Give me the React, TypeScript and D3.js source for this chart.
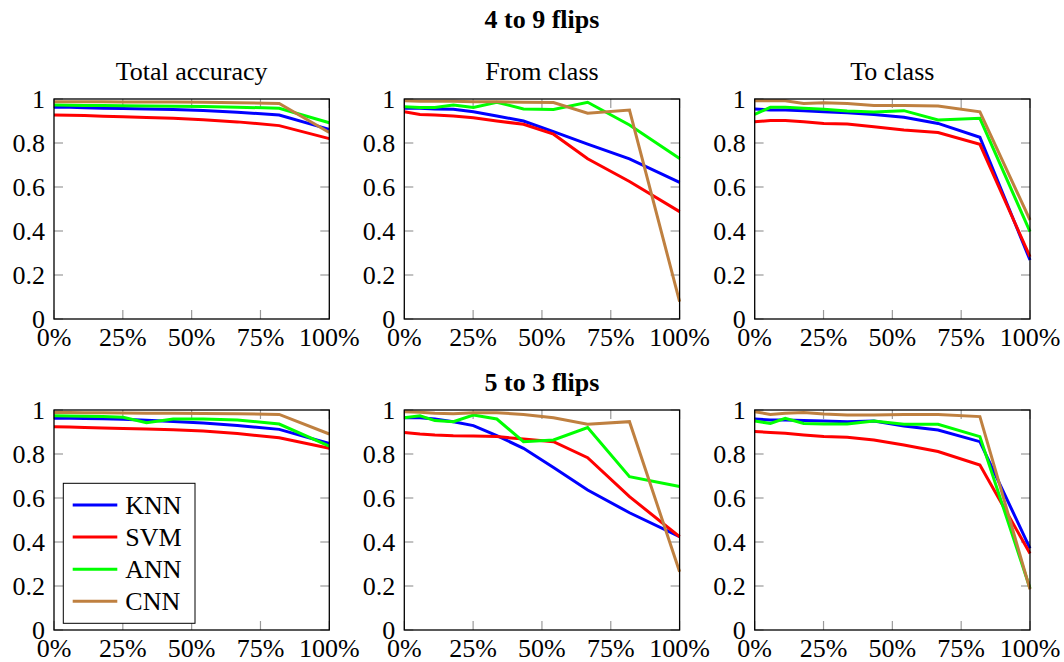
import { useEffect, useRef } from 'react';
import * as d3 from 'd3';

// flip level (percent of the way through the flip sequence)
const flipLevels = [0, 5.7, 11.1, 17.8, 25.1, 33.6, 43.3, 54.2, 66.6, 81.8, 100];
const models = ['KNN', 'SVM', 'ANN', 'CNN'];
const modelColors = ['#0000ff', '#ff0000', '#00ff00', '#bf8040'];
const panelTitles = ['Total accuracy', 'From class', 'To class'];
const rowTitles = ['4 to 9 flips', '5 to 3 flips'];
const xTicks = [0, 25, 50, 75, 100];
const yTicks = [0, 0.2, 0.4, 0.6, 0.8, 1];

// 4 to 9 flips
const total49Knn = [0.962, 0.962, 0.96, 0.958, 0.957, 0.955, 0.952, 0.948, 0.94, 0.927, 0.862];
const total49Svm = [0.927, 0.926, 0.925, 0.922, 0.919, 0.916, 0.912, 0.906, 0.896, 0.879, 0.82];
const total49Ann = [0.973, 0.972, 0.971, 0.97, 0.969, 0.968, 0.967, 0.966, 0.963, 0.958, 0.892];
const total49Cnn = [0.988, 0.988, 0.987, 0.987, 0.986, 0.986, 0.986, 0.985, 0.983, 0.98, 0.848];

const from49Knn = [0.958, 0.958, 0.955, 0.953, 0.942, 0.923, 0.9, 0.852, 0.795, 0.728, 0.621];
const from49Svm = [0.942, 0.93, 0.927, 0.923, 0.915, 0.9, 0.885, 0.84, 0.728, 0.625, 0.488];
const from49Ann = [0.965, 0.961, 0.961, 0.973, 0.961, 0.985, 0.955, 0.952, 0.985, 0.882, 0.73];
const from49Cnn = [0.992, 0.99, 0.99, 0.99, 0.988, 0.988, 0.985, 0.984, 0.935, 0.95, 0.079];

const to49Knn = [0.955, 0.95, 0.95, 0.947, 0.942, 0.938, 0.93, 0.917, 0.889, 0.826, 0.268];
const to49Svm = [0.897, 0.902, 0.902, 0.897, 0.889, 0.886, 0.874, 0.859, 0.848, 0.794, 0.283];
const to49Ann = [0.93, 0.962, 0.962, 0.958, 0.953, 0.945, 0.941, 0.947, 0.905, 0.912, 0.397];
const to49Cnn = [0.992, 0.992, 0.992, 0.98, 0.983, 0.98, 0.971, 0.971, 0.968, 0.942, 0.45];

// 5 to 3 flips
const total53Knn = [0.962, 0.962, 0.961, 0.96, 0.958, 0.953, 0.948, 0.941, 0.93, 0.912, 0.848];
const total53Svm = [0.924, 0.923, 0.921, 0.918, 0.916, 0.914, 0.91, 0.905, 0.893, 0.874, 0.826];
const total53Ann = [0.974, 0.973, 0.972, 0.97, 0.967, 0.942, 0.959, 0.959, 0.955, 0.936, 0.836];
const total53Cnn = [0.989, 0.989, 0.988, 0.987, 0.986, 0.985, 0.985, 0.984, 0.983, 0.98, 0.891];

const from53Knn = [0.965, 0.965, 0.959, 0.947, 0.929, 0.883, 0.826, 0.739, 0.636, 0.533, 0.424];
const from53Svm = [0.898, 0.891, 0.886, 0.883, 0.882, 0.879, 0.868, 0.856, 0.783, 0.606, 0.424];
const from53Ann = [0.965, 0.974, 0.952, 0.947, 0.977, 0.959, 0.856, 0.864, 0.92, 0.697, 0.652];
const from53Cnn = [0.992, 0.99, 0.985, 0.983, 0.988, 0.987, 0.98, 0.965, 0.935, 0.947, 0.265];

const to53Knn = [0.959, 0.955, 0.955, 0.952, 0.95, 0.947, 0.95, 0.927, 0.909, 0.856, 0.371];
const to53Svm = [0.902, 0.898, 0.894, 0.886, 0.879, 0.876, 0.864, 0.841, 0.811, 0.75, 0.348];
const to53Ann = [0.95, 0.939, 0.962, 0.939, 0.936, 0.936, 0.95, 0.935, 0.935, 0.879, 0.19];
const to53Cnn = [0.992, 0.98, 0.985, 0.989, 0.982, 0.977, 0.977, 0.98, 0.98, 0.97, 0.185];

const panelSeries = [
  [
    [total49Knn, total49Svm, total49Ann, total49Cnn],
    [from49Knn, from49Svm, from49Ann, from49Cnn],
    [to49Knn, to49Svm, to49Ann, to49Cnn],
  ],
  [
    [total53Knn, total53Svm, total53Ann, total53Cnn],
    [from53Knn, from53Svm, from53Ann, from53Cnn],
    [to53Knn, to53Svm, to53Ann, to53Cnn],
  ],
];

const serif = '"Liberation Serif", "Times New Roman", serif';

const App = () => {
  const svgRef = useRef(null);

  useEffect(() => {
    const svg = d3.select(svgRef.current);
    svg.selectAll('*').remove();

    const lefts = [54, 404.3, 754.7];
    const tops = [99, 410];
    const width = 275.3;
    const height = 220;
    const tickLen = 9;

    panelSeries.forEach((row, r) => {
      row.forEach((series, c) => {
        const g = svg.append('g').attr('transform', `translate(${lefts[c]},${tops[r]})`);
        const x = d3.scaleLinear().domain([0, 100]).range([0, width]);
        const y = d3.scaleLinear().domain([0, 1]).range([height, 0]);

        // inward grey ticks on all four sides
        const ticks = g.append('g').attr('stroke', '#9a9a9a').attr('stroke-width', 1.2);
        xTicks.forEach((t) => {
          ticks.append('line').attr('x1', x(t)).attr('x2', x(t)).attr('y1', height).attr('y2', height - tickLen);
          ticks.append('line').attr('x1', x(t)).attr('x2', x(t)).attr('y1', 0).attr('y2', tickLen);
        });
        yTicks.forEach((t) => {
          ticks.append('line').attr('x1', 0).attr('x2', tickLen).attr('y1', y(t)).attr('y2', y(t));
          ticks.append('line').attr('x1', width).attr('x2', width - tickLen).attr('y1', y(t)).attr('y2', y(t));
        });

        const line = d3
          .line()
          .x((d, i) => x(flipLevels[i]))
          .y((d) => y(d));

        series.forEach((vals, k) => {
          g.append('path')
            .datum(vals)
            .attr('d', line)
            .attr('fill', 'none')
            .attr('stroke', modelColors[k])
            .attr('stroke-width', 3);
        });

        g.append('rect')
          .attr('width', width)
          .attr('height', height)
          .attr('fill', 'none')
          .attr('stroke', '#000')
          .attr('stroke-width', 1.3);

        g.selectAll('.xl')
          .data(xTicks)
          .enter()
          .append('text')
          .attr('x', (d) => x(d))
          .attr('y', height + 27)
          .attr('text-anchor', 'middle')
          .attr('font-family', serif)
          .attr('font-size', 26)
          .text((d) => `${d}%`);

        g.selectAll('.yl')
          .data(yTicks)
          .enter()
          .append('text')
          .attr('x', -9)
          .attr('y', (d) => y(d))
          .attr('dy', '0.35em')
          .attr('text-anchor', 'end')
          .attr('font-family', serif)
          .attr('font-size', 26)
          .text((d) => d3.format('~g')(d));

        if (r === 0) {
          g.append('text')
            .attr('x', width / 2)
            .attr('y', -19)
            .attr('text-anchor', 'middle')
            .attr('font-family', serif)
            .attr('font-size', 26)
            .text(panelTitles[c]);
        }
      });
    });

    // row titles centred on the middle column
    const mid = lefts[1] + width / 2;
    [28, 391].forEach((yy, i) => {
      svg
        .append('text')
        .attr('x', mid)
        .attr('y', yy)
        .attr('text-anchor', 'middle')
        .attr('font-family', serif)
        .attr('font-weight', 'bold')
        .attr('font-size', 26)
        .text(rowTitles[i]);
    });

    // legend in bottom-left panel
    const lg = svg.append('g').attr('transform', 'translate(63.3,483.3)');
    lg.append('rect')
      .attr('width', 131.7)
      .attr('height', 140)
      .attr('fill', '#fff')
      .attr('stroke', '#000')
      .attr('stroke-width', 1);
    models.forEach((m, i) => {
      const cy = 21.7 + i * 32.1;
      lg.append('line')
        .attr('x1', 9.4)
        .attr('x2', 54)
        .attr('y1', cy)
        .attr('y2', cy)
        .attr('stroke', modelColors[i])
        .attr('stroke-width', 3);
      lg.append('text')
        .attr('x', 62)
        .attr('y', cy)
        .attr('dy', '0.35em')
        .attr('font-family', serif)
        .attr('font-size', 26)
        .text(m);
    });
  }, []);

  return (
    <svg
      ref={svgRef}
      width={1064}
      height={662}
      style={{ position: 'absolute', left: 0, top: 0, background: '#fff' }}
    ></svg>
  );
};

export default App;
